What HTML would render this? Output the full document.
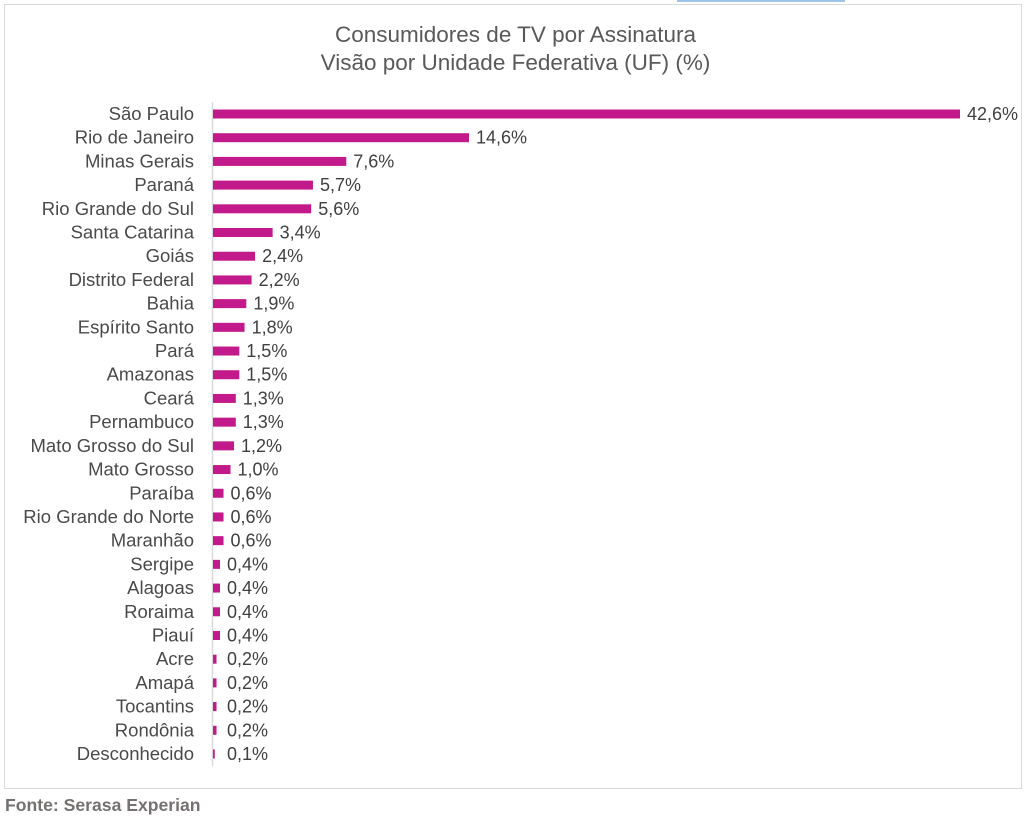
<!DOCTYPE html>
<html><head><meta charset="utf-8"><style>
body{margin:0;background:#fff;width:1031px;height:818px;position:relative;overflow:hidden;font-family:"Liberation Sans",sans-serif}
#frame{position:absolute;left:4px;top:4px;width:1018px;height:785px;border:1.5px solid #d9d9d9;box-sizing:border-box}
#tab{position:absolute;left:677px;top:0;width:168px;height:2px;background:#9dc3e6}
#title{position:absolute;left:0;width:1031px;top:21px;text-align:center;font-size:22.5px;line-height:28px;color:#595959}
#src{position:absolute;left:5px;top:795px;font-size:17.6px;font-weight:bold;color:#767171}
svg{position:absolute;left:0;top:0}
</style></head><body>
<div id="frame"></div>
<div id="tab"></div>
<div id="title">Consumidores de TV por Assinatura<br>Visão por Unidade Federativa (UF) (%)</div>
<div id="src">Fonte: Serasa Experian</div>
<svg id="chart" width="1031" height="818"></svg>
<script>
const categories=["São Paulo","Rio de Janeiro","Minas Gerais","Paraná","Rio Grande do Sul","Santa Catarina","Goiás","Distrito Federal","Bahia","Espírito Santo","Pará","Amazonas","Ceará","Pernambuco","Mato Grosso do Sul","Mato Grosso","Paraíba","Rio Grande do Norte","Maranhão","Sergipe","Alagoas","Roraima","Piauí","Acre","Amapá","Tocantins","Rondônia","Desconhecido"];
const values=[42.6,14.6,7.6,5.7,5.6,3.4,2.4,2.2,1.9,1.8,1.5,1.5,1.3,1.3,1.2,1.0,0.6,0.6,0.6,0.4,0.4,0.4,0.4,0.2,0.2,0.2,0.2,0.1];
const x0=213,pxPer=(960-213)/42.6;
const xScale=v=>x0+v*pxPer;
const yScale=i=>114+i*((754-114)/(categories.length-1));
const svg=document.getElementById('chart');
const NS='http://www.w3.org/2000/svg';
const axis=document.createElementNS(NS,'line');
axis.setAttribute('x1',212.5);axis.setAttribute('x2',212.5);axis.setAttribute('y1',102);axis.setAttribute('y2',766);
axis.setAttribute('stroke','#d9d9d9');axis.setAttribute('stroke-width','1.5');


svg.appendChild(axis);
categories.forEach((c,i)=>{
  const y=yScale(i);
  const t=document.createElementNS(NS,'text');
  t.setAttribute('x',194);t.setAttribute('y',y+6);t.setAttribute('text-anchor','end');
  t.setAttribute('font-size','18.5');t.setAttribute('fill','#4a4a4a');t.setAttribute('font-family','Liberation Sans, sans-serif');
  t.textContent=c;
  
  
  svg.appendChild(t);
  const r=document.createElementNS(NS,'rect');
  r.setAttribute('x',x0);r.setAttribute('y',y-4.5);r.setAttribute('width',Math.max(0,xScale(values[i])-x0));r.setAttribute('height',9);
  r.setAttribute('fill','#c2198b');
  
  
  svg.appendChild(r);
  const v=document.createElementNS(NS,'text');
  v.setAttribute('x',xScale(values[i])+Math.max(7,14-(xScale(values[i])-x0)));v.setAttribute('y',y+6);
  v.setAttribute('font-size','18');v.setAttribute('fill','#404040');v.setAttribute('font-family','Liberation Sans, sans-serif');
  v.textContent=values[i].toFixed(1).replace('.',',')+'%';
  
  
  svg.appendChild(v);
});
</script>
</body></html>
